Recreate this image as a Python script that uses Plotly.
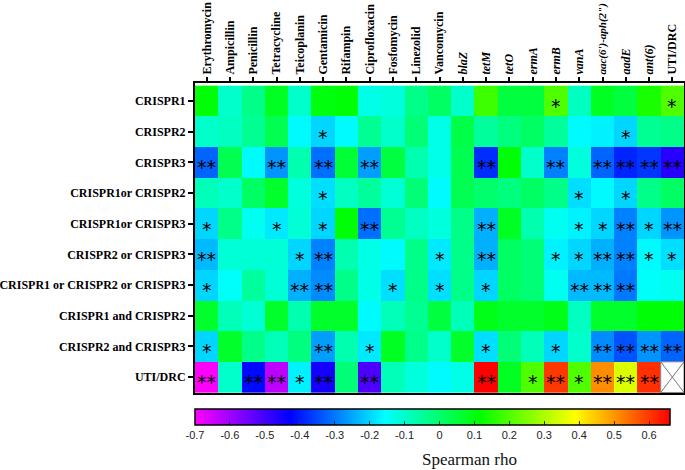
import plotly.graph_objects as go

columns = ["Erythromycin", "Ampicillin", "Penicillin", "Tetracycline", "Teicoplanin",
           "Gentamicin", "Rifampin", "Ciprofloxacin", "Fosfomycin", "Linezolid",
           "Vancomycin", "blaZ", "tetM", "tetO", "ermA", "ermB", "vanA",
           "aac(6')-aph(2\")", "aadE", "ant(6)", "UTI/DRC"]
italic_cols = {"blaZ", "tetM", "tetO", "ermA", "ermB", "vanA", "aac(6')-aph(2\")", "aadE", "ant(6)"}

rows = ["CRISPR1", "CRISPR2", "CRISPR3", "CRISPR1or CRISPR2", "CRISPR1or CRISPR3",
        "CRISPR2 or CRISPR3", "CRISPR1 or CRISPR2 or CRISPR3", "CRISPR1 and CRISPR2",
        "CRISPR2 and CRISPR3", "UTI/DRC"]

cbar_ticks = [-0.7, -0.6, -0.5, -0.4, -0.3, -0.2, -0.1, 0, 0.1, 0.2, 0.3, 0.4, 0.5, 0.6]
cbar_labels = ["-0.7", "-0.6", "-0.5", "-0.4", "-0.3", "-0.2", "-0.1", "0",
               "0.1", "0.2", "0.3", "0.4", "0.5", "0.6"]

rho_crispr1 = [0.11, -0.10, -0.03, 0.08, -0.10, 0.10, 0.11, -0.13, -0.12, -0.03, 0.01,
               -0.10, 0.18, 0.05, 0.05, 0.20, -0.09, 0.08, 0.05, 0.14, 0.20]
rho_crispr2 = [-0.10, -0.09, -0.04, 0.03, -0.16, -0.20, -0.16, -0.04, -0.10, -0.01, -0.13,
               0.04, -0.05, -0.02, 0.01, -0.05, -0.16, -0.17, -0.20, -0.04, -0.03]
rho_crispr3 = [-0.32, 0.03, -0.16, -0.27, -0.07, -0.31, 0.06, -0.26, 0.05, -0.07, -0.13,
               0.03, -0.38, 0.11, -0.10, -0.29, -0.12, -0.32, -0.39, -0.37, -0.47]
rho_1or2 = [-0.08, -0.10, 0.01, 0.07, -0.12, -0.19, -0.09, -0.05, -0.11, -0.01, -0.16,
            0.03, 0.00, -0.02, 0.01, -0.03, -0.19, -0.16, -0.20, -0.03, 0.01]
rho_1or3 = [-0.20, -0.03, -0.14, -0.18, -0.11, -0.20, 0.11, -0.31, -0.04, -0.09, -0.12,
            -0.03, -0.24, 0.08, -0.07, -0.14, -0.17, -0.20, -0.29, -0.20, -0.27]
rho_2or3 = [-0.23, -0.11, -0.11, -0.11, -0.20, -0.29, -0.07, -0.13, -0.16, -0.03, -0.18,
            -0.03, -0.24, 0.01, -0.01, -0.17, -0.20, -0.24, -0.29, -0.16, -0.19]
rho_1or2or3 = [-0.20, -0.15, -0.05, -0.11, -0.24, -0.28, -0.03, -0.13, -0.19, -0.03, -0.19,
               -0.03, -0.20, 0.01, -0.01, -0.14, -0.23, -0.23, -0.30, -0.15, -0.14]
rho_1and2 = [0.07, -0.08, -0.11, 0.07, -0.07, 0.07, 0.07, -0.16, -0.08, -0.04, 0.05,
             -0.08, 0.09, 0.07, 0.07, 0.09, -0.09, 0.07, 0.07, 0.11, 0.11]
rho_2and3 = [-0.20, 0.07, -0.03, -0.08, -0.02, -0.26, -0.07, -0.18, 0.08, -0.03, -0.10,
             0.07, -0.19, -0.01, -0.08, -0.20, -0.10, -0.28, -0.34, -0.27, -0.32]
rho_uti = [-0.70, -0.10, -0.42, -0.63, -0.17, -0.45, -0.01, -0.51, -0.08, -0.12, -0.16,
           -0.13, 0.66, 0.08, 0.20, 0.60, 0.20, 0.51, 0.35, 0.61, None]

sig_crispr1 = ["", "", "", "", "", "", "", "", "", "", "", "", "", "", "", "*", "", "", "", "", "*"]
sig_crispr2 = ["", "", "", "", "", "*", "", "", "", "", "", "", "", "", "", "", "", "", "*", "", ""]
sig_crispr3 = ["**", "", "", "**", "", "**", "", "**", "", "", "", "", "**", "", "", "**", "", "**", "**", "**", "**"]
sig_1or2 = ["", "", "", "", "", "*", "", "", "", "", "", "", "", "", "", "", "*", "", "*", "", ""]
sig_1or3 = ["*", "", "", "*", "", "*", "", "**", "", "", "", "", "**", "", "", "", "*", "*", "**", "*", "**"]
sig_2or3 = ["**", "", "", "", "*", "**", "", "", "", "", "*", "", "**", "", "", "*", "*", "**", "**", "*", "*"]
sig_1or2or3 = ["*", "", "", "", "**", "**", "", "", "*", "", "*", "", "*", "", "", "", "**", "**", "**", "", ""]
sig_1and2 = [""] * 21
sig_2and3 = ["*", "", "", "", "", "**", "", "*", "", "", "", "", "*", "", "", "*", "", "**", "**", "**", "**"]
sig_uti = ["**", "", "**", "**", "*", "**", "", "**", "", "", "", "", "**", "", "*", "**", "*", "**", "**", "**", ""]

z = [rho_crispr1, rho_crispr2, rho_crispr3, rho_1or2, rho_1or3, rho_2or3,
     rho_1or2or3, rho_1and2, rho_2and3, rho_uti]
sig = [sig_crispr1, sig_crispr2, sig_crispr3, sig_1or2, sig_1or3, sig_2or3,
       sig_1or2or3, sig_1and2, sig_2and3, sig_uti]

colorscale = [[0.0, "#ff00ff"], [0.2, "#0000ff"], [0.4, "#00ffff"],
              [0.6, "#00ff00"], [0.8, "#ffff00"], [1.0, "#ff0000"]]

xi = list(range(len(columns)))
yi = list(range(len(rows)))

fig = go.Figure()
fig.add_trace(go.Heatmap(
    z=z, x=xi, y=yi, colorscale=colorscale, zmin=-0.7, zmax=0.66,
    hoverongaps=False,
    colorbar=dict(
        orientation="h", x=0.0, xanchor="left", y=-0.052, yanchor="top",
        len=476 / 490, lenmode="fraction", thickness=16, xpad=0, ypad=0,
        outlinecolor="black", outlinewidth=1.5,
        tickmode="array", tickvals=cbar_ticks, ticktext=cbar_labels,
        ticks="inside", ticklen=4, tickcolor="#333",
        tickfont=dict(family="Liberation Sans, Arial", size=11, color="#222"),
    ),
))

annotations = []
for r, row in enumerate(sig):
    for c, s in enumerate(row):
        if s:
            annotations.append(dict(x=xi[c], y=yi[r], text=s, showarrow=False,
                                    font=dict(family="DejaVu Sans", size=19, color="black"),
                                    yshift=-5, xref="x", yref="y"))

annotations.append(dict(text="Spearman rho", x=0.561, y=-0.216, xref="paper", yref="paper",
                        xanchor="center", yanchor="middle", showarrow=False,
                        font=dict(family="Liberation Serif, Times New Roman", size=17, color="#111")))

# missing cell marked with a cross
nan_r, nan_c = len(rows) - 1, len(columns) - 1
shapes = [
    dict(type="rect", x0=nan_c - 0.5, x1=nan_c + 0.5, y0=nan_r - 0.5, y1=nan_r + 0.5,
         line=dict(color="#888", width=1), fillcolor="white", layer="above"),
    dict(type="line", x0=nan_c - 0.5, x1=nan_c + 0.5, y0=nan_r - 0.5, y1=nan_r + 0.5,
         line=dict(color="#777", width=1)),
    dict(type="line", x0=nan_c - 0.5, x1=nan_c + 0.5, y0=nan_r + 0.5, y1=nan_r - 0.5,
         line=dict(color="#777", width=1)),
]


def fmt_col(c):
    if c in italic_cols:
        t = "<b><i>%s</i></b>" % c
    else:
        t = "<b>%s</b>" % c
    if len(c) > 13:
        t = "<span style='font-size:11px'>%s</span>" % t
    return t


ticktext_x = [fmt_col(c) for c in columns]
ticktext_y = ["<b>%s</b>" % r for r in rows]

fig.update_layout(
    width=685, height=470,
    margin=dict(l=195, r=1, t=83, b=77),
    paper_bgcolor="white", plot_bgcolor="white",
    font=dict(family="Liberation Serif, Times New Roman", color="black"),
    annotations=annotations, shapes=shapes,
    xaxis=dict(side="top", tickmode="array", tickvals=xi, ticktext=ticktext_x,
               tickangle=-90, ticks="outside", ticklen=4, tickwidth=1.5, tickcolor="black",
               tickfont=dict(family="Liberation Serif, Times New Roman", size=12, color="black"),
               showline=True, linewidth=2, linecolor="black", mirror=True, automargin=False,
               showgrid=False, zeroline=False, range=[-0.5, len(columns) - 0.5]),
    yaxis=dict(tickmode="array", tickvals=yi, ticktext=ticktext_y, autorange="reversed",
               ticks="outside", ticklen=5, tickwidth=1.5, tickcolor="black",
               tickfont=dict(family="Liberation Serif, Times New Roman", size=12, color="black"),
               showline=True, linewidth=2, linecolor="black", mirror=True, automargin=False,
               showgrid=False, zeroline=False),
)

fig.write_html("out.html", config={"displayModeBar": False},
               post_script="document.body.style.margin='0';document.body.style.overflow='hidden';")
